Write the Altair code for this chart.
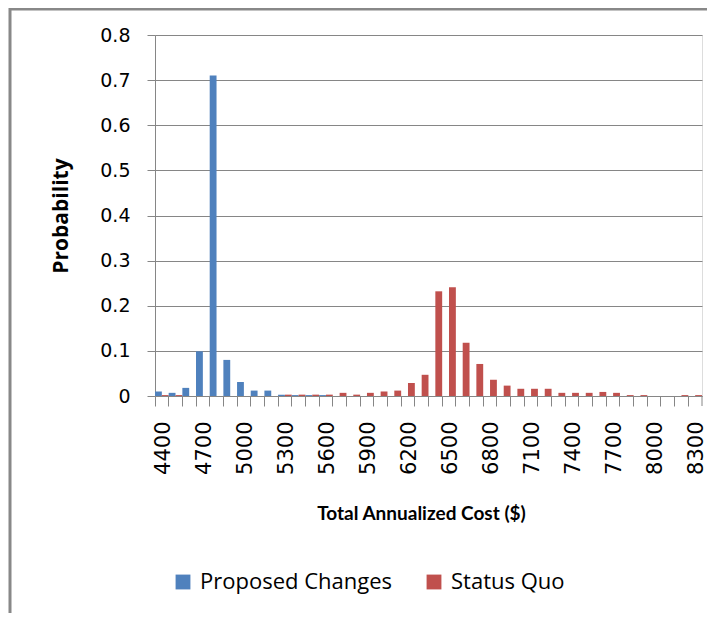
import altair as alt
import pandas as pd

costs = list(range(4400, 8400, 100))
proposed = [0.010, 0.007, 0.018, 0.099, 0.710, 0.080, 0.031, 0.012, 0.012, 0.003,
            0.002, 0.002, 0.002, 0, 0, 0, 0, 0, 0, 0,
            0, 0, 0, 0, 0, 0, 0, 0, 0, 0,
            0, 0, 0, 0, 0, 0, 0, 0, 0, 0]
status_quo = [0.002, 0.002, 0, 0, 0, 0, 0, 0, 0, 0.003,
              0.003, 0.003, 0.003, 0.007, 0.003, 0.007, 0.010, 0.012, 0.029, 0.047,
              0.232, 0.241, 0.118, 0.071, 0.036, 0.023, 0.016, 0.016, 0.016, 0.007,
              0.007, 0.007, 0.009, 0.007, 0.002, 0.002, 0, 0, 0.002, 0.002]
series_names = ["Proposed Changes", "Status Quo"]
series_colors = ["#4F81BD", "#C0504D"]

rows = []
for c, p, s in zip(costs, proposed, status_quo):
    rows.append({"cost": c, "series": series_names[0], "prob": p})
    rows.append({"cost": c, "series": series_names[1], "prob": s})
df = pd.DataFrame(rows)

W, H = 547, 361
PAD_L, PAD_T, PAD_R, PAD_B = 147, 27, 5, 217
GRAY = "#868686"

bars = alt.Chart(df).mark_bar().encode(
    x=alt.X("cost:O",
            scale=alt.Scale(paddingInner=0, paddingOuter=0),
            axis=alt.Axis(
                title="Total Annualized Cost ($)",
                titleFont="Lato", titleFontWeight="bold", titleFontSize=19,
                titleColor="#000000", titlePadding=30, titleX=266,
                labelAngle=270, labelFont="DejaVu Sans", labelFontSize=21,
                labelColor="#000000",
                labelExpr="(datum.value - 4400) % 300 == 0 ? datum.label : ''",
                bandPosition=0, labelOffset=1.8,
                tickSize=10, tickColor=GRAY, tickWidth=1,
                domainColor=GRAY, domainWidth=1,
                labelPadding=15, labelOverlap=False, grid=False)),
    xOffset=alt.XOffset("series:N", sort=series_names,
                        scale=alt.Scale(paddingInner=0, paddingOuter=0)),
    y=alt.Y("prob:Q",
            scale=alt.Scale(domain=[0, 0.8], nice=False),
            axis=alt.Axis(
                title="Probability", values=[0, 0.1, 0.2, 0.3, 0.4, 0.5, 0.6, 0.7, 0.8],
                format=".1~f",
                titleFont="Open Sans", titleFontWeight="bold", titleFontSize=21,
                titleColor="#000000", titlePadding=28,
                labelFont="DejaVu Sans", labelFontSize=19, labelColor="#000000",
                labelPadding=17,
                tickSize=8, tickColor=GRAY, domainColor=GRAY,
                grid=True, gridColor=GRAY, gridWidth=1)),
    color=alt.Color("series:N",
                    scale=alt.Scale(domain=series_names, range=series_colors),
                    legend=alt.Legend(
                        title=None, orient="none", direction="horizontal",
                        legendX=17, legendY=536,
                        symbolType="square", symbolSize=220, symbolStrokeWidth=0,
                        labelFont="Open Sans", labelFontSize=22, labelColor="#000000",
                        labelLimit=0, labelOffset=6, columnPadding=30)),
)

frame = pd.DataFrame({"k": [0]})
left_border = alt.Chart(frame).mark_rule(color="#888888", strokeWidth=3).encode(
    x=alt.value(-PAD_L + 2), y=alt.value(-PAD_T), y2=alt.value(H + PAD_B))
top_border = alt.Chart(frame).mark_rule(color="#888888", strokeWidth=3).encode(
    x=alt.value(-PAD_L + 1), x2=alt.value(W + PAD_R), y=alt.value(-PAD_T + 1))
end_tick = alt.Chart(frame).mark_rule(color=GRAY, strokeWidth=1).encode(
    x=alt.value(W), y=alt.value(H), y2=alt.value(H + 10))

chart = alt.layer(bars, left_border, top_border, end_tick).properties(
    width=W, height=H,
    autosize=alt.AutoSizeParams(type="none"),
    padding={"left": PAD_L, "top": PAD_T, "right": PAD_R, "bottom": PAD_B},
).configure_view(stroke=None).configure(background="#FFFFFF")

chart.save("out.html", embed_options={"renderer": "svg", "actions": False})
